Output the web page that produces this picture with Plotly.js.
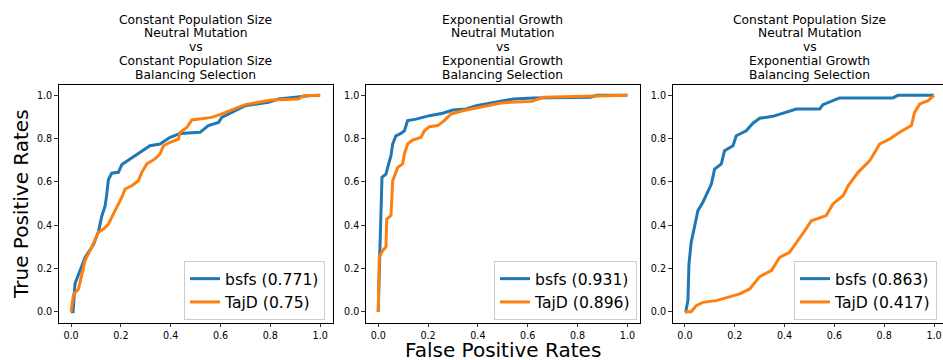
<!DOCTYPE html>
<html>
<head>
<meta charset="utf-8">
<script src="https://cdn.plot.ly/plotly-3.0.1.min.js"></script>
<style>html,body{margin:0;padding:0;background:#fff;}#chart{width:943px;height:360px;}</style>
</head>
<body>
<div id="chart"></div>
<script>
// Panel titles
const panelTitles = [
  ["Constant Population Size", "Neutral Mutation", "vs", "Constant Population Size", "Balancing Selection"],
  ["Exponential Growth", "Neutral Mutation", "vs", "Exponential Growth", "Balancing Selection"],
  ["Constant Population Size", "Neutral Mutation", "vs", "Exponential Growth", "Balancing Selection"]
];
const seriesNames = ["bsfs", "TajD"];
const aucBsfs = ["0.771", "0.931", "0.863"];
const aucTajD = ["0.75", "0.896", "0.417"];
const tickVals = [0, 0.2, 0.4, 0.6, 0.8, 1.0];
const tickLabels = ["0.0", "0.2", "0.4", "0.6", "0.8", "1.0"];

// Panel 1 ROC points
const p1BsfsFpr = [0, 0.008, 0.016, 0.036, 0.056, 0.09, 0.11, 0.123, 0.137, 0.143, 0.15, 0.163, 0.19, 0.204, 0.23, 0.277, 0.317, 0.357, 0.398, 0.438, 0.518, 0.551, 0.592, 0.605, 0.659, 0.699, 0.792, 0.833, 0.90, 0.953, 1.0];
const p1BsfsTpr = [0, 0, 0.13, 0.19, 0.25, 0.31, 0.37, 0.44, 0.49, 0.54, 0.61, 0.64, 0.644, 0.68, 0.70, 0.737, 0.767, 0.775, 0.806, 0.824, 0.829, 0.86, 0.875, 0.898, 0.929, 0.952, 0.968, 0.983, 0.991, 0.998, 1.0];
const p1TajdFpr = [0, 0.01, 0.03, 0.043, 0.056, 0.076, 0.096, 0.11, 0.13, 0.15, 0.163, 0.184, 0.204, 0.217, 0.244, 0.27, 0.284, 0.304, 0.337, 0.357, 0.371, 0.398, 0.431, 0.438, 0.465, 0.485, 0.565, 0.605, 0.659, 0.699, 0.806, 0.913, 0.933, 1.0];
const p1TajdTpr = [0, 0.08, 0.105, 0.174, 0.236, 0.282, 0.328, 0.367, 0.382, 0.405, 0.436, 0.482, 0.529, 0.567, 0.582, 0.605, 0.644, 0.683, 0.706, 0.729, 0.767, 0.783, 0.798, 0.829, 0.852, 0.886, 0.898, 0.914, 0.937, 0.957, 0.978, 0.983, 0.998, 1.0];

// Panel 2 ROC points
const p2BsfsFpr = [0, 0.002, 0.006, 0.015, 0.031, 0.038, 0.051, 0.058, 0.071, 0.091, 0.105, 0.118, 0.152, 0.205, 0.259, 0.299, 0.353, 0.393, 0.473, 0.543, 0.623, 0.851, 0.878, 1.0];
const p2BsfsTpr = [0, 0.159, 0.26, 0.621, 0.636, 0.667, 0.721, 0.775, 0.813, 0.824, 0.836, 0.883, 0.89, 0.906, 0.917, 0.932, 0.937, 0.952, 0.968, 0.983, 0.988, 0.991, 1.0, 1.0];
const p2TajdFpr = [0, 0.002, 0.004, 0.018, 0.031, 0.034, 0.051, 0.058, 0.078, 0.098, 0.105, 0.118, 0.138, 0.172, 0.185, 0.205, 0.239, 0.265, 0.292, 0.339, 0.393, 0.433, 0.487, 0.53, 0.617, 0.663, 0.824, 0.865, 1.0];
const p2TajdTpr = [0, 0.18, 0.251, 0.282, 0.3, 0.428, 0.444, 0.605, 0.667, 0.683, 0.729, 0.775, 0.793, 0.806, 0.836, 0.855, 0.86, 0.883, 0.914, 0.929, 0.941, 0.952, 0.963, 0.968, 0.972, 0.991, 0.994, 0.998, 1.0];

// Panel 3 ROC points
const p3BsfsFpr = [0, 0.003, 0.012, 0.016, 0.025, 0.039, 0.052, 0.072, 0.086, 0.106, 0.119, 0.146, 0.159, 0.193, 0.206, 0.246, 0.273, 0.3, 0.353, 0.394, 0.447, 0.541, 0.554, 0.594, 0.621, 0.835, 0.855, 1.0];
const p3BsfsTpr = [0, 0, 0.051, 0.22, 0.32, 0.39, 0.467, 0.506, 0.544, 0.59, 0.659, 0.683, 0.744, 0.767, 0.813, 0.836, 0.871, 0.894, 0.903, 0.917, 0.937, 0.937, 0.957, 0.975, 0.988, 0.988, 1.0, 1.0];
const p3TajdFpr = [0, 0.025, 0.045, 0.072, 0.126, 0.173, 0.22, 0.26, 0.3, 0.347, 0.38, 0.42, 0.454, 0.481, 0.507, 0.527, 0.567, 0.594, 0.635, 0.655, 0.695, 0.742, 0.782, 0.822, 0.862, 0.909, 0.922, 0.943, 0.976, 1.0];
const p3TajdTpr = [0, 0, 0.028, 0.043, 0.051, 0.067, 0.082, 0.105, 0.162, 0.19, 0.251, 0.274, 0.328, 0.374, 0.42, 0.428, 0.444, 0.498, 0.536, 0.582, 0.644, 0.698, 0.775, 0.798, 0.829, 0.86, 0.921, 0.96, 0.975, 1.0];

const W = 943, H = 360;
const FONT = "DejaVu Sans, Liberation Sans, sans-serif";
const BLUE = "#1f77b4", ORANGE = "#ff7f0e";

const panels = [
  {bx: [p1BsfsFpr, p1BsfsTpr], tj: [p1TajdFpr, p1TajdTpr]},
  {bx: [p2BsfsFpr, p2BsfsTpr], tj: [p2TajdFpr, p2TajdTpr]},
  {bx: [p3BsfsFpr, p3BsfsTpr], tj: [p3TajdFpr, p3TajdTpr]}
];
// pixel geometry of the axes boxes
const boxLeft = [58.6, 365.8, 672.5];
const boxRight = [332.6, 639.8, 943];
const xRanges = [[-0.05, 1.05], [-0.05, 1.05], [-0.05, 1.036]];
const legendRight = [325, 637, 937];
const yDomain = [(H - 322.5) / H, (H - 84.5) / H];

const traces = [];
const layout = {
  width: W, height: H,
  margin: {l: 0, r: 0, t: 0, b: 0},
  paper_bgcolor: "#fff", plot_bgcolor: "#fff",
  font: {family: FONT, color: "#000"},
  annotations: [],
  showlegend: true
};

panels.forEach((p, i) => {
  const sfx = i === 0 ? "" : String(i + 1);
  const legName = "legend" + sfx;
  traces.push({
    x: p.bx[0], y: p.bx[1], type: "scatter", mode: "lines",
    name: seriesNames[0] + " (" + aucBsfs[i] + ")",
    line: {color: BLUE, width: 3},
    xaxis: "x" + sfx, yaxis: "y" + sfx, legend: legName
  });
  traces.push({
    x: p.tj[0], y: p.tj[1], type: "scatter", mode: "lines",
    name: seriesNames[1] + " (" + aucTajD[i] + ")",
    line: {color: ORANGE, width: 3},
    xaxis: "x" + sfx, yaxis: "y" + sfx, legend: legName
  });
  const axCommon = {
    showgrid: false, zeroline: false, showline: true, linecolor: "#000", linewidth: 1,
    mirror: true, ticks: "outside", ticklen: 3.5, tickwidth: 0.8, tickcolor: "#000",
    tickvals: tickVals, ticktext: tickLabels,
    tickfont: {family: FONT, size: 9.6, color: "#000"}, fixedrange: true
  };
  layout["xaxis" + sfx] = Object.assign({}, axCommon, {
    domain: [boxLeft[i] / W, boxRight[i] / W], range: xRanges[i],
    anchor: "y" + sfx
  });
  layout["yaxis" + sfx] = Object.assign({}, axCommon, {
    domain: yDomain, range: [-0.05, 1.05], anchor: "x" + sfx
  });
  layout[legName] = {
    x: legendRight[i] / W, y: (H - 320) / H, xanchor: "right", yanchor: "bottom",
    xref: "paper", yref: "paper",
    bgcolor: "rgba(255,255,255,0.8)", bordercolor: "#cccccc", borderwidth: 1,
    font: {family: FONT, size: 15.6, color: "#000"}, tracegroupgap: 0
  };
  const cxFull = (boxLeft[i] + boxLeft[i] + 274) / 2;
  panelTitles[i].forEach((t, k) => {
    layout.annotations.push({
      text: t, xref: "paper", yref: "paper",
      x: cxFull / W, y: 1 - (19.5 + 13.9 * k) / H,
      xanchor: "center", yanchor: "middle", showarrow: false,
      font: {family: FONT, size: 12.3, color: "#000"}
    });
  });
});

layout.annotations.push({
  text: "True Positive Rates", xref: "paper", yref: "paper",
  x: 21 / W, y: 1 - 204 / H, xanchor: "center", yanchor: "middle",
  textangle: -90, showarrow: false, font: {family: FONT, size: 20, color: "#000"}
});
layout.annotations.push({
  text: "False Positive Rates", xref: "paper", yref: "paper",
  x: 502.8 / W, y: 1 - 349.5 / H, xanchor: "center", yanchor: "middle",
  showarrow: false, font: {family: FONT, size: 20, color: "#000"}
});

Plotly.newPlot("chart", traces, layout, {displayModeBar: false, staticPlot: true});
</script>
</body>
</html>
